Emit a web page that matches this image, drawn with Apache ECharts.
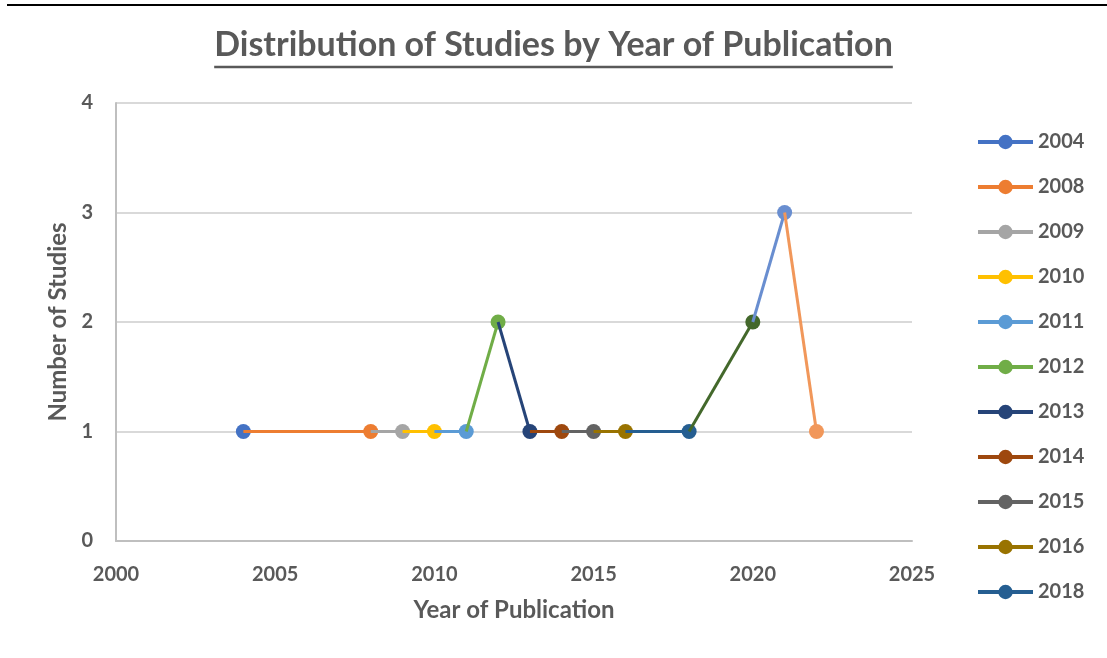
<!DOCTYPE html>
<html>
<head>
<meta charset="utf-8">
<script src="https://cdn.jsdelivr.net/npm/echarts@6/dist/echarts.min.js"></script>
<style>
html,body{margin:0;padding:0;background:#fff;}
#c{width:1107px;height:658px;}
</style>
</head>
<body>
<div id="c"></div>
<script>
const years = [2004, 2008, 2009, 2010, 2011, 2012, 2013, 2014, 2015, 2016, 2018, 2020, 2021, 2022];
const counts = [1, 1, 1, 1, 1, 2, 1, 1, 1, 1, 1, 2, 3, 1];
const colors = ['#4472C4', '#ED7D31', '#A5A5A5', '#FFC000', '#5B9BD5', '#70AD47', '#264478', '#9E480E', '#636363', '#997300', '#255E91', '#43682B', '#698ED0', '#F1975A'];
const legendShown = ['2004', '2008', '2009', '2010', '2011', '2012', '2013', '2014', '2015', '2016', '2018'];
const xTicks = [2000, 2025, 5];
const yTicks = [0, 4, 1];

const FONT = 'Lato';
const GREY = '#595959';
const TITLE = 'Distribution of Studies by Year of Publication';

const series = years.map((y, i) => {
  const data = [];
  if (i > 0) data.push({ value: [years[i - 1], counts[i - 1]], symbol: 'none' });
  data.push({ value: [y, counts[i]] });
  return {
    name: String(y),
    type: 'line',
    data: data,
    symbol: 'circle',
    symbolSize: 15,
    showAllSymbol: true,
    itemStyle: { color: colors[i] },
    lineStyle: { color: colors[i], width: 3 },
    emphasis: { disabled: true },
    z: 2 + i
  };
});

const chart = echarts.init(document.getElementById('c'));
chart.setOption({
  animation: false,
  backgroundColor: '#fff',
  textStyle: { fontFamily: FONT },
  grid: { left: 116, right: 195, top: 103, bottom: 117 },
  xAxis: {
    type: 'value',
    min: xTicks[0], max: xTicks[1], interval: xTicks[2],
    name: 'Year of Publication',
    nameLocation: 'middle',
    nameGap: 57,
    nameTextStyle: { fontFamily: FONT, fontWeight: 'bold', fontSize: 24, color: GREY },
    axisLine: { show: true, lineStyle: { color: '#BFBFBF', width: 2 } },
    axisTick: { show: false },
    splitLine: { show: false },
    axisLabel: { fontFamily: FONT, fontWeight: 'bold', fontSize: 20, color: GREY, margin: 24, formatter: v => String(v) }
  },
  yAxis: {
    type: 'value',
    min: yTicks[0], max: yTicks[1], interval: yTicks[2],
    name: 'Number of Studies',
    nameLocation: 'middle',
    nameGap: 46,
    nameTextStyle: { fontFamily: FONT, fontWeight: 'bold', fontSize: 24, color: GREY },
    axisLine: { show: true, lineStyle: { color: '#BFBFBF', width: 2 } },
    axisTick: { show: false },
    splitLine: { show: true, lineStyle: { color: '#D9D9D9', width: 2 } },
    axisLabel: { fontFamily: FONT, fontWeight: 'bold', fontSize: 20, color: GREY, margin: 23 }
  },
  legend: {
    orient: 'vertical',
    left: 971,
    top: 127,
    data: legendShown,
    itemWidth: 55,
    itemHeight: 18,
    itemGap: 25,
    lineStyle: { width: 4 },
    textStyle: { fontFamily: FONT, fontWeight: 'bold', fontSize: 20, color: GREY, lineHeight: 18 },
    selectedMode: false
  },
  graphic: [
    { type: 'line', shape: { x1: 8, y1: 0, x2: 8, y2: 658 }, style: { stroke: '#000', lineWidth: 2 } },
    { type: 'line', shape: { x1: 7, y1: 5, x2: 1107, y2: 5 }, style: { stroke: '#000', lineWidth: 2 } },
    { type: 'text', left: 'center', top: 28,
      style: { text: TITLE, fontFamily: FONT, fontWeight: 'bold', fontSize: 34, fill: GREY } }
  ],
  series: series
});

// underline the title based on its rendered width
const zr = chart.getZr();
let titleEl = null;
zr.storage.getDisplayList(true).forEach(el => {
  if (el.style && el.style.text === TITLE) titleEl = el;
});
if (titleEl) {
  const r = titleEl.getBoundingRect();
  const t = titleEl.transform || [1,0,0,1,0,0];
  const x1 = r.x * t[0] + t[4], x2 = (r.x + r.width) * t[0] + t[4];
  chart.setOption({ graphic: [{ type: 'line', shape: { x1: x1, y1: 67, x2: x2, y2: 67 }, style: { stroke: GREY, lineWidth: 2.5 } }] });
}
</script>
</body>
</html>
